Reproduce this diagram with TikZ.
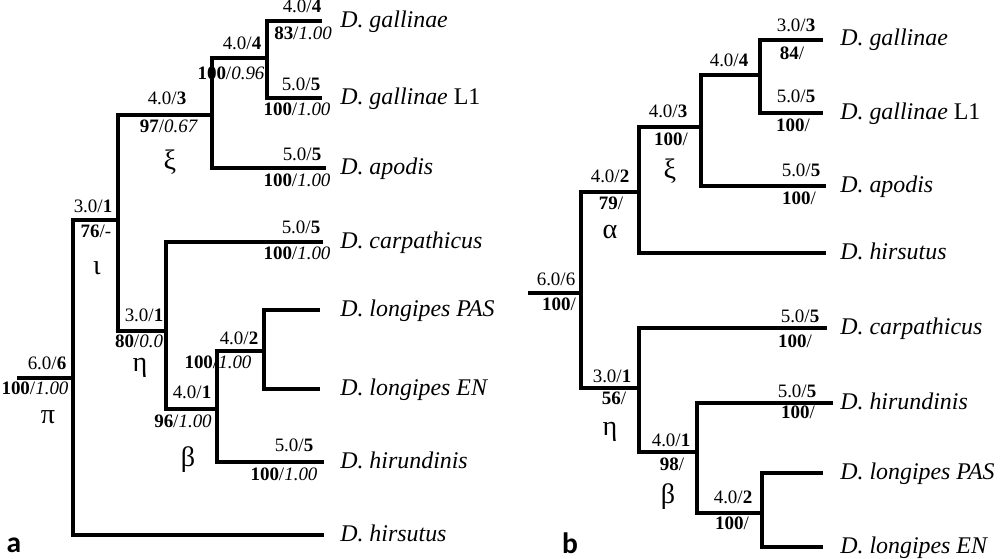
\documentclass[tikz,border=0pt]{standalone}
\usepackage{fontspec}
\setmainfont{Liberation Serif}
\newfontfamily\panelfont{Carlito}
\usetikzlibrary{positioning}

\tikzset{
	branch/.style={line width=2.6pt, line join=miter},
	lab/.style={inner sep=0pt, text height=0.7em, text depth=0pt, font=\fontsize{13.5}{15}\selectfont},
	taxon/.style={inner sep=0pt, anchor=base west, font=\fontsize{17}{19}\selectfont\itshape},
	clade/.style={inner sep=0pt, font=\fontsize{20}{22}\selectfont},
	panel/.style={inner sep=0pt, anchor=base, font=\fontsize{21}{23}\selectfont\panelfont\bfseries}
}

\begin{document}
\begin{tikzpicture}[x=0.025cm, y=-0.025cm]
	\useasboundingbox (0,0) rectangle (1000,559);

	% panel a
	\coordinate (aStart) at (17,378);
	\coordinate (aRoot) at (73,378);
	\coordinate (aIota) at (118,220);
	\coordinate (aXi) at (212,115);
	\coordinate (aN4) at (267,58);
	\coordinate (aGalT) at (322,21);
	\coordinate (aL1T) at (322,98);
	\coordinate (aApoT) at (326,168);
	\coordinate (aEta) at (166,331);
	\coordinate (aCarT) at (323,242);
	\coordinate (aBeta) at (217,409);
	\coordinate (aN2) at (264,351);
	\coordinate (aPasT) at (320,310);
	\coordinate (aEnT) at (320,389);
	\coordinate (aHirT) at (324,462);
	\coordinate (aHirsT) at (324,535);

	\draw[branch] (aStart) -- (aRoot);
	\draw[branch] (aIota) -| (aRoot) |- (aHirsT);
	\draw[branch] (aXi) -| (aIota) |- (aEta);
	\draw[branch] (aN4) -| (aXi) |- (aApoT);
	\draw[branch] (aGalT) -| (aN4) |- (aL1T);
	\draw[branch] (aCarT) -| (aEta) |- (aBeta);
	\draw[branch] (aN2) -| (aBeta) |- (aHirT);
	\draw[branch] (aPasT) -| (aN2) |- (aEnT);

	\node[lab] (aRootU) at (47,365) {6.0/\textbf{6}};
	\node[lab] (aRootL) at (35,390) {\textbf{100}/\textit{1.00}};
	\node[clade] (aPi) at (48,417) {π};
	\node[lab] (aIotaU) at (93,208) {3.0/\textbf{1}};
	\node[lab] (aIotaL) at (96,233) {\textbf{76}/-};
	\node[clade] (aIotaG) at (97,268) {ι};
	\node[lab] (aXiU) at (167,100) {4.0/\textbf{3}};
	\node[lab] (aXiL) at (169,128) {\textbf{97}/\textit{0.67}};
	\node[clade] (aXiG) at (170,162) {ξ};
	\node[lab] (aN4U) at (242,45) {4.0/\textbf{4}};
	\node[lab] (aN4L) at (231,75) {\textbf{100}/\textit{0.96}};
	\node[lab] (aGalU) at (302,8) {4.0/\textbf{4}};
	\node[lab] (aGalL) at (303,35) {\textbf{83}/\textit{1.00}};
	\node[lab] (aL1U) at (301,86) {5.0/\textbf{5}};
	\node[lab] (aL1L) at (297,111) {\textbf{100}/\textit{1.00}};
	\node[lab] (aApoU) at (302,156) {5.0/\textbf{5}};
	\node[lab] (aApoL) at (297,182) {\textbf{100}/\textit{1.00}};
	\node[lab] (aEtaU) at (144,317) {3.0/\textbf{1}};
	\node[lab] (aEtaL) at (139,343) {\textbf{80}/\textit{0.0}};
	\node[clade] (aEtaG) at (140,368) {η};
	\node[lab] (aCarU) at (301,229) {5.0/\textbf{5}};
	\node[lab] (aCarL) at (297,255) {\textbf{100}/\textit{1.00}};
	\node[lab] (aN2U) at (239,340) {4.0/\textbf{2}};
	\node[lab] (aN2L) at (218,364) {\textbf{100}/\textit{1.00}};
	\node[lab] (aBetaU) at (192,394) {4.0/\textbf{1}};
	\node[lab] (aBetaL) at (183,423) {\textbf{96}/\textit{1.00}};
	\node[clade] (aBetaG) at (188,460) {β};
	\node[lab] (aHirU) at (294,447) {5.0/\textbf{5}};
	\node[lab] (aHirL) at (284,476) {\textbf{100}/\textit{1.00}};

	\node[taxon] (aGal) at (340,27) {D. gallinae};
	\node[taxon] (aL1) at (340,104) {D. gallinae \textup{L1}};
	\node[taxon] (aApo) at (340,174) {D. apodis};
	\node[taxon] (aCar) at (340,248) {D. carpathicus};
	\node[taxon] (aPas) at (340,316) {D. longipes PAS};
	\node[taxon] (aEn) at (340,395) {D. longipes EN};
	\node[taxon] (aHir) at (340,468) {D. hirundinis};
	\node[taxon] (aHirs) at (340,541) {D. hirsutus};
	\node[panel] (aPanel) at (14,552) {a};

	% panel b
	\coordinate (bStart) at (528,293);
	\coordinate (bRoot) at (581,293);
	\coordinate (bAlpha) at (639,192);
	\coordinate (bXi) at (701,127);
	\coordinate (bN4) at (760,75);
	\coordinate (bGalT) at (823,40);
	\coordinate (bL1T) at (823,113);
	\coordinate (bApoT) at (826,186);
	\coordinate (bHirsT) at (826,253);
	\coordinate (bEta) at (639,388);
	\coordinate (bCarT) at (827,328);
	\coordinate (bBeta) at (697,452);
	\coordinate (bHirT) at (833,403);
	\coordinate (bN2) at (762,513);
	\coordinate (bPasT) at (823,473);
	\coordinate (bEnT) at (823,547);

	\draw[branch] (bStart) -- (bRoot);
	\draw[branch] (bAlpha) -| (bRoot) |- (bEta);
	\draw[branch] (bXi) -| (bAlpha) |- (bHirsT);
	\draw[branch] (bN4) -| (bXi) |- (bApoT);
	\draw[branch] (bGalT) -| (bN4) |- (bL1T);
	\draw[branch] (bCarT) -| (bEta) |- (bBeta);
	\draw[branch] (bHirT) -| (bBeta) |- (bN2);
	\draw[branch] (bPasT) -| (bN2) |- (bEnT);

	\node[lab] (bRootU) at (556,281) {6.0/6};
	\node[lab] (bRootL) at (559,306) {\textbf{100}/};
	\node[lab] (bAlphaU) at (610,178) {4.0/\textbf{2}};
	\node[lab] (bAlphaL) at (611,205) {\textbf{79}/};
	\node[clade] (bAlphaG) at (610,232) {α};
	\node[lab] (bXiU) at (668,113) {4.0/\textbf{3}};
	\node[lab] (bXiL) at (671,141) {\textbf{100}/};
	\node[clade] (bXiG) at (670,171) {ξ};
	\node[lab] (bN4U) at (729,62) {4.0/\textbf{4}};
	\node[lab] (bGalU) at (796,27) {3.0/\textbf{3}};
	\node[lab] (bGalL) at (792,55) {\textbf{84}/};
	\node[lab] (bL1U) at (796,98) {5.0/\textbf{5}};
	\node[lab] (bL1L) at (793,127) {\textbf{100}/};
	\node[lab] (bApoU) at (801,172) {5.0/\textbf{5}};
	\node[lab] (bApoL) at (799,200) {\textbf{100}/};
	\node[lab] (bEtaU) at (612,378) {3.0/\textbf{1}};
	\node[lab] (bEtaL) at (614,400) {\textbf{56}/};
	\node[clade] (bEtaG) at (610,432) {η};
	\node[lab] (bCarU) at (800,318) {5.0/\textbf{5}};
	\node[lab] (bCarL) at (795,343) {\textbf{100}/};
	\node[lab] (bBetaU) at (671,442) {4.0/\textbf{1}};
	\node[lab] (bBetaL) at (672,466) {\textbf{98}/};
	\node[clade] (bBetaG) at (668,497) {β};
	\node[lab] (bHirU) at (797,393) {5.0/\textbf{5}};
	\node[lab] (bHirL) at (798,414) {\textbf{100}/};
	\node[lab] (bN2U) at (733,499) {4.0/\textbf{2}};
	\node[lab] (bN2L) at (732,525) {\textbf{100}/};

	\node[taxon] (bGal) at (840,46) {D. gallinae};
	\node[taxon] (bL1) at (840,119) {D. gallinae \textup{L1}};
	\node[taxon] (bApo) at (840,192) {D. apodis};
	\node[taxon] (bHirs) at (840,259) {D. hirsutus};
	\node[taxon] (bCar) at (840,334) {D. carpathicus};
	\node[taxon] (bHir) at (840,409) {D. hirundinis};
	\node[taxon] (bPas) at (840,479) {D. longipes PAS};
	\node[taxon] (bEn) at (840,553) {D. longipes EN};
	\node[panel] (bPanel) at (570,553) {b};
\end{tikzpicture}
\end{document}
